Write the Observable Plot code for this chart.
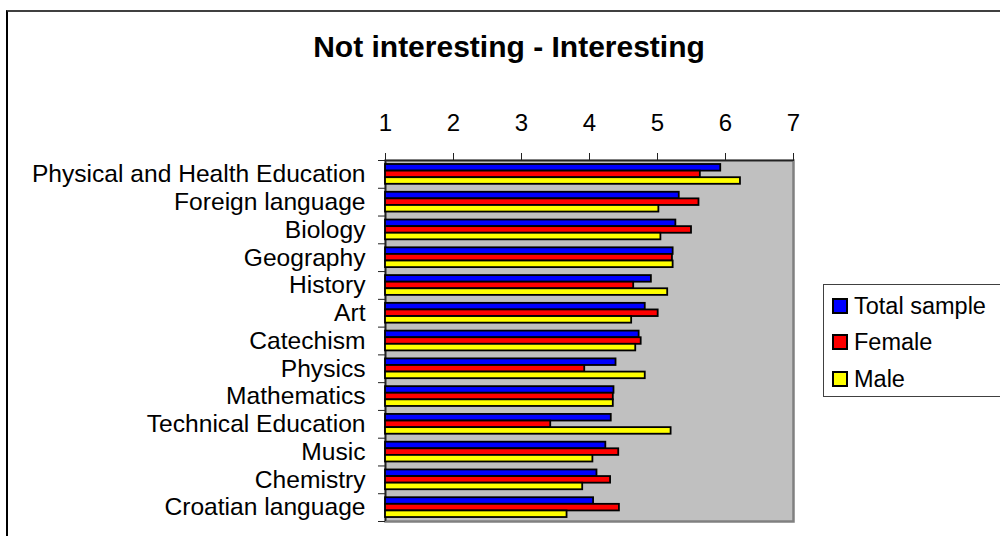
<!DOCTYPE html>
<html>
<head>
<meta charset="utf-8">
<script src="https://cdn.jsdelivr.net/npm/d3@7"></script>
<script src="https://cdn.jsdelivr.net/npm/@observablehq/plot@0.6"></script>
<style>
  html, body { margin: 0; padding: 0; background: #fff; }
  #wrap { position: relative; width: 1000px; height: 536px; overflow: hidden; font-family: "Liberation Sans", Arial, sans-serif; }
  #border { position: absolute; left: 6px; top: 10px; width: 1100px; height: 700px; border-left: 2px solid #000; border-top: 2px solid #404040; }
  #title { position: absolute; left: 0; top: 32px; width: 1018px; text-align: center; font-weight: bold; font-size: 30px; line-height: 30px; color: #000; }
  #chart { position: absolute; left: 0; top: 0; }
  #legend { position: absolute; left: 823px; top: 284px; width: 300px; height: 111px; border: 1.5px solid #404040; background: #fff; }
  .row { position: absolute; left: 0; height: 24px; }
  .sw { position: absolute; left: 8px; top: 4px; width: 16px; height: 16px; box-sizing: border-box; border: 2px solid #000; }
  .lab { position: absolute; left: 30px; top: 0; font-size: 23.5px; line-height: 24px; white-space: nowrap; color: #000; }
</style>
</head>
<body>
<div id="wrap">
  <div id="border"></div>
  <div id="chart"></div>
  <div id="title"></div>
  <div id="legend"></div>
</div>
<script>
const titleText = "Not interesting - Interesting";
const subjects = [
  "Physical and Health Education", "Foreign language", "Biology", "Geography",
  "History", "Art", "Catechism", "Physics", "Mathematics",
  "Technical Education", "Music", "Chemistry", "Croatian language"
];
const seriesNames = ["Total sample", "Female", "Male"];
const total  = [5.93, 5.32, 5.27, 5.23, 4.91, 4.82, 4.73, 4.39, 4.36, 4.32, 4.24, 4.11, 4.06];
const female = [5.63, 5.61, 5.50, 5.22, 4.65, 5.01, 4.76, 3.93, 4.35, 3.43, 4.43, 4.31, 4.44];
const male   = [6.22, 5.02, 5.05, 5.23, 5.15, 4.62, 4.68, 4.82, 4.35, 5.20, 4.05, 3.90, 3.67];
const xTicks = [1, 2, 3, 4, 5, 6, 7];

const colors = ["#0000ff", "#ff0000", "#ffff00"];

const W = 1000, H = 536, mL = 385, mR = 207, mT = 160, mB = 15;
const bw = (H - mT - mB) / subjects.length;
const barH = 6.6, pad = 4;

function bars(values, k, color) {
  return Plot.rectX(subjects, {
    y: d => d,
    x1: xTicks[0],
    x2: (d, i) => values[i],
    fill: color,
    stroke: "#000",
    strokeWidth: 1.8,
    insetTop: pad + k * barH,
    insetBottom: bw - pad - (k + 1) * barH
  });
}

const chart = Plot.plot({
  width: W, height: H,
  marginLeft: mL, marginRight: mR, marginTop: mT, marginBottom: mB,
  style: { fontFamily: "'Liberation Sans', Arial, sans-serif", fontSize: "24px", background: "transparent", color: "#000", overflow: "visible" },
  x: { domain: [xTicks[0], xTicks[xTicks.length - 1]], axis: null },
  y: { domain: subjects, padding: 0, round: false, axis: null },
  marks: [
    Plot.frame({ fill: "#c0c0c0", stroke: "#808080", strokeWidth: 2.5 }),
    Plot.ruleX([xTicks[0]], { stroke: "#222", strokeWidth: 1.5 }),
    Plot.ruleY([subjects[0]], { stroke: "#222", strokeWidth: 1.5, dy: -bw / 2 }),
    bars(total, 0, colors[0]),
    bars(female, 1, colors[1]),
    bars(male, 2, colors[2]),
    Plot.axisX({ anchor: "top", ticks: xTicks, tickSize: 8, tickPadding: 22, fontSize: 24, label: null, tickFormat: d => String(d), stroke: "#222" }),
    Plot.axisY({ anchor: "left", tickSize: 0, tickPadding: 20, fontSize: 24.6, label: null }),
    Plot.axisY({ anchor: "left", tickSize: 7, tickFormat: () => "", label: null, dy: -bw / 2, stroke: "#222" }),
    Plot.axisY({ anchor: "left", ticks: [subjects[subjects.length - 1]], tickSize: 7, tickFormat: () => "", label: null, dy: bw / 2, stroke: "#222" })
  ]
});
document.getElementById("chart").appendChild(chart);
document.getElementById("title").textContent = titleText;

const legend = document.getElementById("legend");
seriesNames.forEach((name, i) => {
  const row = document.createElement("div");
  row.className = "row";
  row.style.top = (8.5 + i * 36.7) + "px";
  const sw = document.createElement("div");
  sw.className = "sw";
  sw.style.background = colors[i];
  const lab = document.createElement("div");
  lab.className = "lab";
  lab.textContent = name;
  row.appendChild(sw);
  row.appendChild(lab);
  legend.appendChild(row);
});
</script>
</body>
</html>
